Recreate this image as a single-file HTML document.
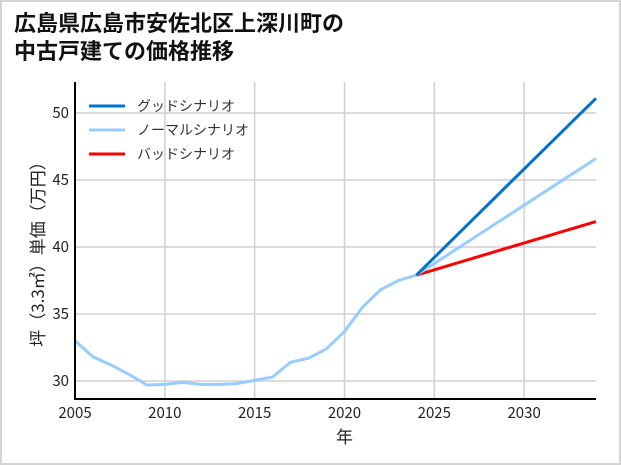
<!DOCTYPE html>
<html><head><meta charset="utf-8"><style>
body{margin:0;background:#fff;}
#wrap{position:relative;width:617px;height:461px;border:2px solid #d4d4d4;background:#fff;font-family:"Liberation Sans","Noto Sans CJK JP",sans-serif;}
#title{position:absolute;left:12px;top:6px;font-size:22px;font-weight:bold;line-height:28px;color:#111;font-family:"Noto Sans CJK JP",sans-serif;}
svg{position:absolute;left:-2px;top:-2px;}
</style></head><body>
<div id="wrap">
<div id="title">広島県広島市安佐北区上深川町の<br>中古戸建ての価格推移</div>
<svg id="chart" width="621" height="465"></svg>
</div>
<script>
const years=[2005,2006,2007,2008,2009,2010,2011,2012,2013,2014,2015,2016,2017,2018,2019,2020,2021,2022,2023,2024];
const history=[33.0,31.8,31.2,30.5,29.7,29.75,29.9,29.75,29.75,29.8,30.05,30.3,31.4,31.7,32.4,33.7,35.5,36.8,37.5,37.9];
const projYears=[2024,2034];
const goodVals=[37.9,51.1];
const normalVals=[37.9,46.6];
const badVals=[37.9,41.9];
const xTicks=[2005,2010,2015,2020,2025,2030];
const yTicks=[30,35,40,45,50];
const legendLabels=["グッドシナリオ","ノーマルシナリオ","バッドシナリオ"];
const legendColors=["#0072cf","#99ccff","#ff0000"];

const NS="http://www.w3.org/2000/svg";
const svg=document.getElementById('chart');
const L=75,R=596,T=82,B=399;
const x=v=>L+(v-2005)*(R-L)/(2034-2005);
const y=v=>381-(v-30)*13.4;
function mk(tag,attrs,parent){const e=document.createElementNS(NS,tag);for(const k in attrs)e.setAttribute(k,attrs[k]);(parent||svg).appendChild(e);return e;}
const font='"Noto Sans CJK JP",sans-serif';
xTicks.forEach(t=>{
 const g=mk('line',{x1:x(t),x2:x(t),y1:T,y2:B,stroke:'#d0d0d0','stroke-width':1.5});
 
 
 const tx=mk('text',{x:x(t),y:418,'text-anchor':'middle','font-size':15,fill:'#222','font-family':font});
 tx.textContent=t;
 
 
});
yTicks.forEach(t=>{
 const g=mk('line',{x1:L,x2:R,y1:y(t),y2:y(t),stroke:'#d0d0d0','stroke-width':1.5});
 
 
 const tx=mk('text',{x:69,y:y(t)+5,'text-anchor':'end','font-size':15,fill:'#222','font-family':font});
 tx.textContent=t;
 
 
});
function line(xs,vs,color,name){
 const p=mk('polyline',{points:xs.map((a,i)=>x(a)+','+y(vs[i])).join(' '),fill:'none',stroke:color,'stroke-width':3,'stroke-linejoin':'round'});
 
 
}
line(years,history,'#99ccff','history-line');
line(projYears,badVals,'#ff0000','bad-scenario-line');
line(projYears,normalVals,'#99ccff','normal-scenario-line');
line(projYears,goodVals,'#0072cf','good-scenario-line');
const ax=mk('path',{d:`M${L},${T} V${B} H${R}`,fill:'none',stroke:'#000','stroke-width':2});


legendLabels.forEach((lab,i)=>{
 const yy=106+i*24;
 const l=mk('line',{x1:89,x2:125,y1:yy,y2:yy,stroke:legendColors[i],'stroke-width':3});
 
 
 const t=mk('text',{x:137,y:yy+5,'font-size':14,fill:'#333','font-family':font});
 t.textContent=lab;
 
 
});
const xl=mk('text',{x:x(2020),y:443,'text-anchor':'middle','font-size':17,fill:'#222','font-family':font});
xl.textContent='年';


const yl=mk('text',{x:0,y:0,'text-anchor':'middle','font-size':17,fill:'#222','font-family':font,transform:'translate(44,250) rotate(-90)'});
yl.textContent='坪（3.3㎡）単価（万円）';


</script>
</body></html>
